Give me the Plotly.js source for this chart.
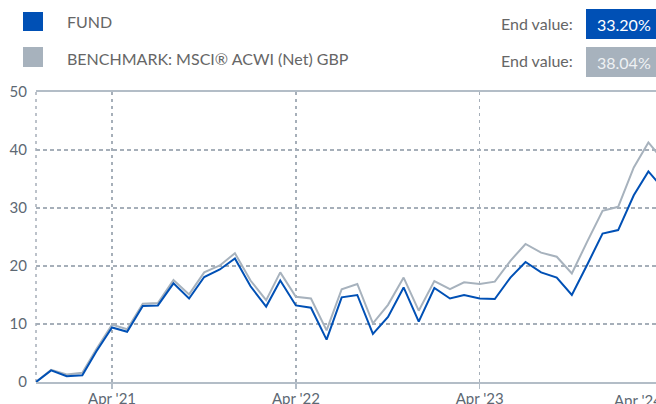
<!DOCTYPE html>
<html>
<head>
<meta charset="utf-8">
<script src="https://cdn.plot.ly/plotly-3.0.1.min.js"></script>
<style>
html,body{margin:0;padding:0;overflow:hidden;background:#fff;width:656px;height:404px;}
#chart{width:680px;height:404px;}
</style>
</head>
<body>
<div id="chart"></div>
<script>
// ---- data ----
const dates = [
  "2020-11-01","2020-12-01","2021-01-01","2021-02-01","2021-03-01","2021-04-01",
  "2021-05-01","2021-06-01","2021-07-01","2021-08-01","2021-09-01","2021-10-01",
  "2021-11-01","2021-12-01","2022-01-01","2022-02-01","2022-03-01","2022-04-01",
  "2022-05-01","2022-06-01","2022-07-01","2022-08-01","2022-09-01","2022-10-01",
  "2022-11-01","2022-12-01","2023-01-01","2023-02-01","2023-03-01","2023-04-01",
  "2023-05-01","2023-06-01","2023-07-01","2023-08-01","2023-09-01","2023-10-01",
  "2023-11-01","2023-12-01","2024-01-01","2024-02-01","2024-03-01","2024-04-01"
];
const fund = [
  0, 2.0, 1.0, 1.15, 5.3, 9.4,
  8.65, 13.1, 13.2, 17.0, 14.4, 18.1,
  19.4, 21.3, 16.5, 13.0, 17.5, 13.2,
  12.8, 7.3, 14.6, 15.0, 8.3, 11.2,
  16.3, 10.4, 16.2, 14.4, 15.0, 14.4,
  14.3, 18.0, 20.7, 18.9, 18.0, 15.0,
  20.3, 25.6, 26.2, 32.2, 36.3, 33.20
];
const benchmark = [
  0, 2.1, 1.3, 1.6, 5.7, 9.9,
  9.1, 13.5, 13.6, 17.6, 15.1, 18.9,
  20.1, 22.2, 17.5, 14.1, 18.9, 14.7,
  14.4, 8.9, 16.0, 16.9, 10.1, 13.3,
  18.0, 12.3, 17.4, 16.0, 17.2, 16.9,
  17.3, 20.9, 23.8, 22.3, 21.6, 18.7,
  24.3, 29.5, 30.2, 37.0, 41.3, 38.04
];
const seriesNames = ["FUND", "BENCHMARK: MSCI® ACWI (Net) GBP"];
const endValues = ["33.20%", "38.04%"];
const xTickVals = ["2021-04-01","2022-04-01","2023-04-01","2024-04-01"];
const xTickText = ["Apr '21","Apr '22","Apr '23","Apr '24"];
const yTickVals = [0,10,20,30,40,50];

// ---- style ----
const BLUE = "#0050b5";
const GREY = "#a7b2bd";
const GRID = "#a6afb9";
const AXIS = "#b3bdc7";
const LABEL = "#5d6873";
const FONT = "Lato, 'Open Sans', sans-serif";

const W = 680, H = 404;
const M = {l:36, r:16, t:92, b:22};
const PW = W - M.l - M.r, PH = H - M.t - M.b;
const PX = px => (px - M.l) / PW;
const PY = py => (H - M.b - py) / PH;

const traces = [
  {x: dates, y: benchmark, type: "scatter", mode: "lines", name: seriesNames[1],
   line: {color: GREY, width: 2}, hoverinfo: "skip"},
  {x: dates, y: fund, type: "scatter", mode: "lines", name: seriesNames[0],
   line: {color: BLUE, width: 2}, hoverinfo: "skip"}
];

const shapes = [
  // left dashed edge line
  {type:"line", xref:"paper", yref:"paper", x0:0, x1:0, y0:0, y1:1,
   line:{color:GRID, width:1.5, dash:"3px,4px"}, layer:"below"},
  // legend squares
  {type:"rect", xref:"paper", yref:"paper", x0:PX(23), x1:PX(43), y0:PY(31), y1:PY(12),
   fillcolor:BLUE, line:{width:0}},
  {type:"rect", xref:"paper", yref:"paper", x0:PX(23), x1:PX(43), y0:PY(67), y1:PY(47),
   fillcolor:GREY, line:{width:0}},
  // end value boxes
  {type:"rect", xref:"paper", yref:"paper", x0:PX(586), x1:PX(662), y0:PY(39), y1:PY(9),
   fillcolor:BLUE, line:{width:0}},
  {type:"rect", xref:"paper", yref:"paper", x0:PX(586), x1:PX(662), y0:PY(77), y1:PY(47),
   fillcolor:GREY, line:{width:0}}
];

const legendFont = {family: FONT, size: 16, color: "#666666"};
const annotations = [
  {xref:"paper", yref:"paper", x:PX(65), y:PY(22), xanchor:"left", yanchor:"middle",
   text: seriesNames[0], showarrow:false, font: legendFont},
  {xref:"paper", yref:"paper", x:PX(65), y:PY(58), xanchor:"left", yanchor:"middle",
   text: seriesNames[1], showarrow:false, font: legendFont},
  {xref:"paper", yref:"paper", x:PX(575), y:PY(23), xanchor:"right", yanchor:"middle",
   text: "End value:", showarrow:false, font: legendFont},
  {xref:"paper", yref:"paper", x:PX(575), y:PY(61), xanchor:"right", yanchor:"middle",
   text: "End value:", showarrow:false, font: legendFont},
  {xref:"paper", yref:"paper", x:PX(624), y:PY(24), xanchor:"center", yanchor:"middle",
   text: endValues[0], showarrow:false, font:{family:FONT, size:16, color:"#ffffff"}},
  {xref:"paper", yref:"paper", x:PX(624), y:PY(62), xanchor:"center", yanchor:"middle",
   text: endValues[1], showarrow:false, font:{family:FONT, size:16, color:"#eef1f4"}},
  // last x label, justified to the chart edge
  {xref:"x", yref:"paper", x: xTickVals[3], y: PY(389), xanchor:"right", yanchor:"top",
   text: xTickText[3], showarrow:false, font:{family:FONT, size:15, color:LABEL}}
];

const layout = {
  width: W, height: H,
  margin: M,
  paper_bgcolor: "#ffffff", plot_bgcolor: "#ffffff",
  showlegend: false,
  font: {family: FONT, size: 15, color: LABEL},
  xaxis: {
    type: "date",
    range: [dates[0], dates[dates.length-1]],
    tickvals: xTickVals.slice(0,3), ticktext: xTickText.slice(0,3),
    showgrid: true, gridcolor: GRID, gridwidth: 1.5, griddash: "3px,4px",
    showline: true, linecolor: AXIS, linewidth: 2, mirror: true,
    ticks: "outside", ticklen: 5, tickwidth: 1.5, tickcolor: AXIS,
    ticklabelstandoff: -3,
    tickfont: {family: FONT, size: 15, color: LABEL},
    zeroline: false, fixedrange: true
  },
  yaxis: {
    range: [0, 50],
    tickvals: yTickVals,
    showgrid: true, gridcolor: GRID, gridwidth: 1.5, griddash: "4px,3px",
    showline: false, zeroline: false,
    ticks: "", ticklabelstandoff: 8,
    tickfont: {family: FONT, size: 15, color: LABEL},
    fixedrange: true
  },
  shapes: shapes,
  annotations: annotations
};

Plotly.newPlot("chart", traces, layout, {staticPlot: true, displayModeBar: false});
</script>
</body>
</html>
